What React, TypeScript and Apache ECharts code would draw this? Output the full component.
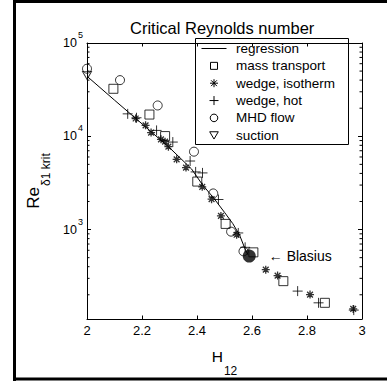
import React, { useEffect, useRef } from 'react';
import * as echarts from 'echarts';

const FONT = '"Liberation Sans", Arial, Helvetica, sans-serif';

// axes
const xMin = 2;
const xMax = 3;
const xStep = 0.2;
const yMin = 110;
const yMax = 100000;
const minorTickValues = [
  200, 300, 400, 500, 600, 700, 800, 900,
  2000, 3000, 4000, 5000, 6000, 7000, 8000, 9000,
  20000, 30000, 40000, 50000, 60000, 70000, 80000, 90000,
];

// regression curve
const regressionH = [2.0, 2.1, 2.2, 2.3, 2.38, 2.42, 2.46, 2.5, 2.53, 2.555, 2.575, 2.585];
const regressionRe = [44000, 24400, 13600, 7550, 4470, 3020, 2190, 1530, 1160, 870, 617, 537];

// mass transport (squares)
const massH = [2.096, 2.227, 2.284, 2.401, 2.504, 2.605, 2.714, 2.865];
const massRe = [32300, 17100, 10050, 3270, 1150, 570, 280, 164];

// wedge, isotherm (asterisks)
const isoH = [2.177, 2.213, 2.233, 2.269, 2.284, 2.296, 2.326, 2.36, 2.419, 2.453, 2.487, 2.544, 2.65, 2.693, 2.811, 2.968];
const isoRe = [15500, 13100, 10970, 9270, 8750, 7740, 5660, 4620, 2870, 2120, 1400, 880, 372, 321, 201, 141];

// wedge, hot (plus)
const hotH = [2.148, 2.18, 2.253, 2.312, 2.375, 2.395, 2.42, 2.478, 2.55, 2.575, 2.766, 2.842, 2.97];
const hotRe = [17400, 15800, 11560, 8670, 5430, 4150, 4050, 2100, 920, 645, 219, 164, 137];

// MHD flow (circles)
const mhdH = [2.0, 2.12, 2.257, 2.389, 2.459, 2.524, 2.569];
const mhdRe = [53000, 40000, 21400, 6840, 2440, 950, 585];

// suction (triangle down)
const suctionH = [2.0];
const suctionRe = [45000];

// Blasius point
const blasiusH = [2.59];
const blasiusRe = [520];

const legendNames = ['regression', 'mass transport', 'wedge, isotherm', 'wedge, hot', 'MHD flow', 'suction'];
const legendIcons = ['line', 'square', 'star', 'plus', 'circle', 'triangle'];

const pairs = (xs: number[], ys: number[]) => xs.map((x, i) => [x, ys[i]]);

const PLUS = 'path://M0,-5L0,5M-5,0L5,0';
const STAR = 'path://M0,-5L0,5M-5,0L5,0M-3.6,-3.6L3.6,3.6M-3.6,3.6L3.6,-3.6';

const hollow = { color: 'transparent', borderColor: '#000', borderWidth: 1 };

function legendGraphic() {
  const boxX = 195.5;
  const boxY = 38.5;
  const boxW = 153;
  const boxH = 106;
  const iconX = 214;
  const textX = 236;
  const rowY0 = 48.5;
  const rowStep = 17.35;
  const st = { stroke: '#000', lineWidth: 1, fill: 'none' };
  const children: any[] = [
    { type: 'rect', shape: { x: boxX, y: boxY, width: boxW, height: boxH }, style: { fill: '#fff', stroke: '#000', lineWidth: 1 } },
  ];
  legendNames.forEach((name, i) => {
    const y = rowY0 + i * rowStep;
    const kind = legendIcons[i];
    if (kind === 'line') {
      children.push({ type: 'line', shape: { x1: iconX - 12.5, y1: y, x2: iconX + 12.5, y2: y }, style: st });
    } else if (kind === 'square') {
      children.push({ type: 'rect', shape: { x: iconX - 3.5, y: y - 3.5, width: 7, height: 7 }, style: st });
    } else if (kind === 'star') {
      const r = 4;
      const d = 2.9;
      children.push({ type: 'line', shape: { x1: iconX, y1: y - r, x2: iconX, y2: y + r }, style: st });
      children.push({ type: 'line', shape: { x1: iconX - r, y1: y, x2: iconX + r, y2: y }, style: st });
      children.push({ type: 'line', shape: { x1: iconX - d, y1: y - d, x2: iconX + d, y2: y + d }, style: st });
      children.push({ type: 'line', shape: { x1: iconX - d, y1: y + d, x2: iconX + d, y2: y - d }, style: st });
    } else if (kind === 'plus') {
      const r = 4.5;
      children.push({ type: 'line', shape: { x1: iconX, y1: y - r, x2: iconX, y2: y + r }, style: st });
      children.push({ type: 'line', shape: { x1: iconX - r, y1: y, x2: iconX + r, y2: y }, style: st });
    } else if (kind === 'circle') {
      children.push({ type: 'circle', shape: { cx: iconX, cy: y, r: 3.8 }, style: st });
    } else if (kind === 'triangle') {
      children.push({
        type: 'polygon',
        shape: { points: [[iconX - 4.3, y - 3.5], [iconX + 4.3, y - 3.5], [iconX, y + 3.8]] },
        style: st,
      });
    }
    children.push({
      type: 'text',
      x: textX,
      y,
      style: { text: name, fontFamily: FONT, fontSize: 13.5, fill: '#000', verticalAlign: 'middle', align: 'left' },
    });
  });
  return { type: 'group', z: 50, silent: true, children };
}

export default function App() {
  const ref = useRef<HTMLDivElement>(null);

  useEffect(() => {
    if (!ref.current) return;
    const chart = echarts.init(ref.current, undefined, { renderer: 'svg' });

    const axisLine = { show: true, lineStyle: { color: '#000', width: 1 } };

    const option: any = {
      animation: false,
      backgroundColor: '#fff',
      title: {
        text: 'Critical Reynolds number',
        left: 130,
        top: 19,
        padding: 0,
        textStyle: { fontFamily: FONT, fontSize: 16.5, fontWeight: 'normal', color: '#000' },
      },
      grid: { left: 87, top: 43, width: 275, height: 277 },
      xAxis: [
        {
          type: 'value',
          min: xMin,
          max: xMax,
          interval: xStep,
          position: 'bottom',
          axisLine,
          axisTick: { show: true, inside: true, length: 3.5, lineStyle: { color: '#000' } },
          axisLabel: { margin: 5, fontFamily: FONT, fontSize: 13, color: '#000' },
          splitLine: { show: false },
          name: '{h|H}{s|12}',
          nameLocation: 'middle',
          nameGap: 16,
          nameTextStyle: {
            rich: {
              h: { fontFamily: FONT, fontSize: 15.5, color: '#000' },
              s: { fontFamily: FONT, fontSize: 12, color: '#000', padding: [30, 0, 0, 1] },
            },
          },
        },
        {
          type: 'value',
          min: xMin,
          max: xMax,
          interval: xStep,
          position: 'top',
          axisLine,
          axisTick: { show: true, inside: true, length: 3.5, lineStyle: { color: '#000' } },
          axisLabel: { show: false },
          splitLine: { show: false },
        },
      ],
      yAxis: [
        {
          type: 'log',
          logBase: 10,
          min: yMin,
          max: yMax,
          position: 'left',
          axisLine,
          axisTick: { show: true, inside: true, length: 4, lineStyle: { color: '#000' } },
          axisLabel: {
            margin: 4,
            formatter: (v: number) => {
              const l = Math.log10(v);
              const e = Math.round(l);
              if (Math.abs(l - e) > 1e-6) return '';
              return `{b|10}{s|${e}}`;
            },
            rich: {
              b: { fontFamily: FONT, fontSize: 12.5, color: '#000' },
              s: { fontFamily: FONT, fontSize: 9, color: '#000', padding: [0, 0, 16, 1] },
            },
          },
          splitLine: { show: false },
          name: '{r|Re}{s|\u03b41 krit}',
          nameLocation: 'middle',
          nameGap: 34,
          nameTextStyle: {
            rich: {
              r: { fontFamily: FONT, fontSize: 17, color: '#000' },
              s: { fontFamily: FONT, fontSize: 12, color: '#000', padding: [25, 0, 0, 1] },
            },
          },
        },
        {
          type: 'log',
          logBase: 10,
          min: yMin,
          max: yMax,
          position: 'right',
          axisLine,
          axisTick: { show: true, inside: true, length: 4, lineStyle: { color: '#000' } },
          axisLabel: { show: false },
          splitLine: { show: false },
        },
      ],
      series: [
        {
          name: 'regression',
          type: 'line',
          data: pairs(regressionH, regressionRe),
          symbol: 'none',
          showSymbol: false,
          lineStyle: { color: '#000', width: 1 },
          itemStyle: { color: '#000' },
          silent: true,
          z: 2,
        },
        {
          name: 'mass transport',
          type: 'scatter',
          data: pairs(massH, massRe),
          symbol: 'rect',
          symbolSize: 9,
          itemStyle: hollow,
          clip: false,
          silent: true,
          z: 3,
        },
        {
          name: 'wedge, isotherm',
          type: 'scatter',
          data: pairs(isoH, isoRe),
          symbol: STAR,
          symbolSize: 8,
          itemStyle: { ...hollow, borderWidth: 1.3 },
          clip: false,
          silent: true,
          z: 3,
        },
        {
          name: 'wedge, hot',
          type: 'scatter',
          data: pairs(hotH, hotRe),
          symbol: PLUS,
          symbolSize: 10,
          itemStyle: hollow,
          clip: false,
          silent: true,
          z: 3,
        },
        {
          name: 'MHD flow',
          type: 'scatter',
          data: pairs(mhdH, mhdRe),
          symbol: 'circle',
          symbolSize: 9,
          itemStyle: hollow,
          clip: false,
          silent: true,
          z: 3,
        },
        {
          name: 'suction',
          type: 'scatter',
          data: pairs(suctionH, suctionRe),
          symbol: 'triangle',
          symbolRotate: 180,
          symbolSize: [9, 8],
          itemStyle: hollow,
          clip: false,
          silent: true,
          z: 3,
        },
        {
          name: 'Blasius',
          type: 'scatter',
          data: pairs(blasiusH, blasiusRe),
          symbol: 'circle',
          symbolSize: 13,
          itemStyle: { color: '#000' },
          label: {
            show: true,
            position: 'right',
            distance: 13,
            formatter: '\u2190 Blasius',
            fontFamily: FONT,
            fontSize: 14,
            color: '#000',
            opacity: 1,
          },
          clip: false,
          silent: true,
          z: 4,
        },
        {
          name: 'minor ticks',
          type: 'custom',
          xAxisIndex: 0,
          yAxisIndex: 0,
          silent: true,
          clip: false,
          z: 5,
          data: minorTickValues.map((v) => [xMin, v]),
          renderItem: (_params: any, api: any) => {
            const v = api.value(1);
            const l = api.coord([xMin, v]);
            const r = api.coord([xMax, v]);
            const style = { stroke: '#000', lineWidth: 1 };
            return {
              type: 'group',
              children: [
                { type: 'line', shape: { x1: l[0], y1: l[1], x2: l[0] + 2.5, y2: l[1] }, style },
                { type: 'line', shape: { x1: r[0] - 2.5, y1: r[1], x2: r[0], y2: r[1] }, style },
              ],
            };
          },
        },
      ],
      graphic: [
        legendGraphic(),
        { type: 'line', silent: true, z: 100, shape: { x1: 13, y1: 1.5, x2: 387, y2: 1.5 }, style: { stroke: '#000', lineWidth: 3 } },
        { type: 'line', silent: true, z: 100, shape: { x1: 14.5, y1: 0, x2: 14.5, y2: 381 }, style: { stroke: '#000', lineWidth: 3 } },
        { type: 'line', silent: true, z: 100, shape: { x1: 13, y1: 379, x2: 387, y2: 379 }, style: { stroke: '#000', lineWidth: 3 } },
      ],
    };

    chart.setOption(option);
    return () => chart.dispose();
  }, []);

  return (
    <div
      ref={ref}
      style={{ position: 'fixed', left: 0, top: 0, width: 387, height: 382, background: '#fff' }}
    />
  );
}
